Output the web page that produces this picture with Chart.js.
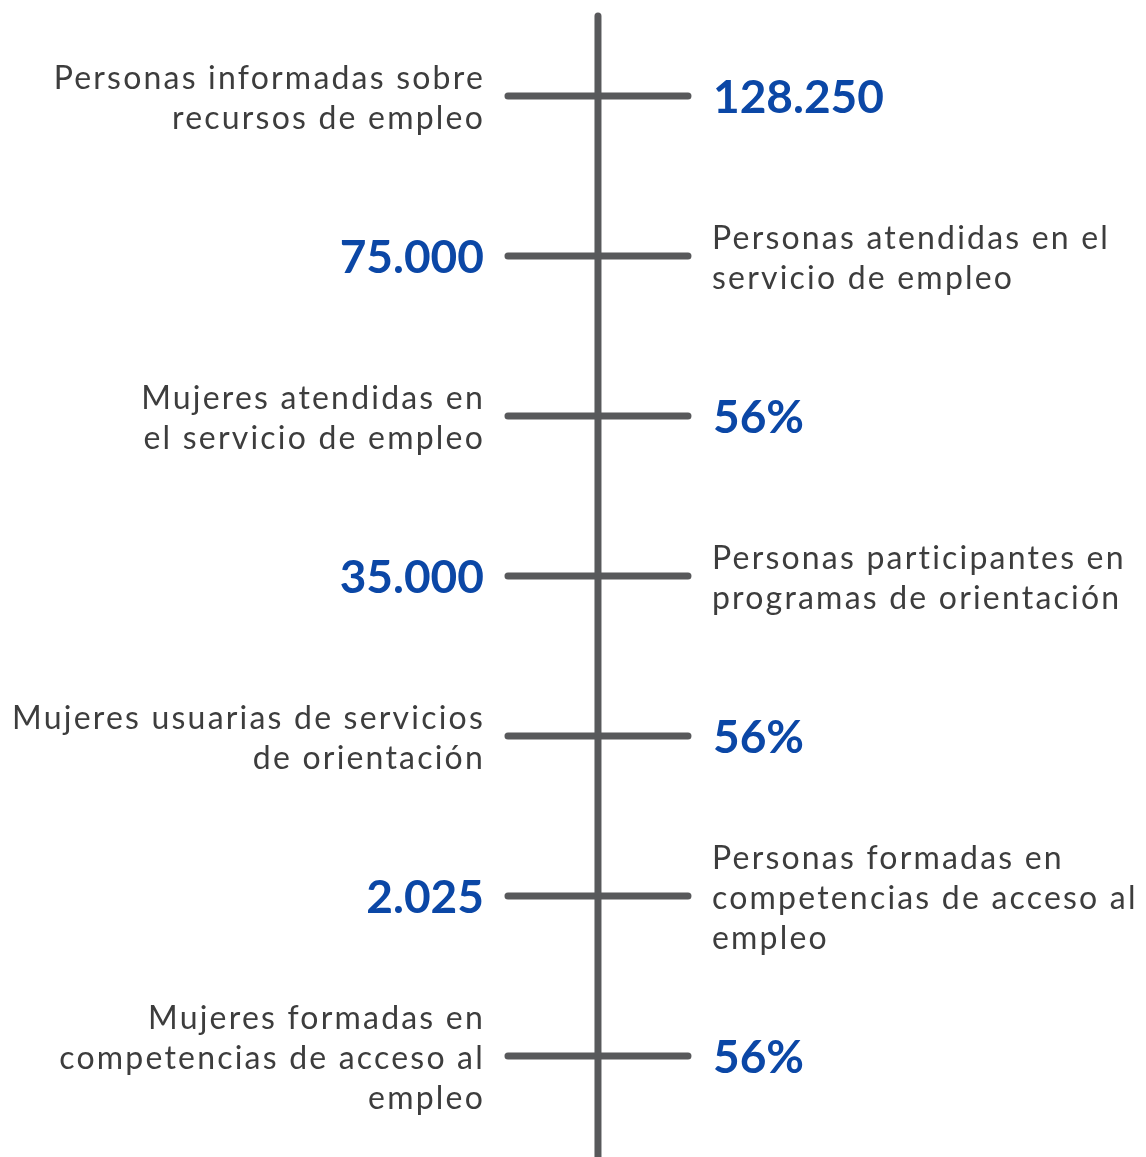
<!DOCTYPE html>
<html>
<head>
<meta charset="utf-8">
<script src="https://cdn.jsdelivr.net/npm/chart.js@4"></script>
<style>
    html, body { margin: 0; padding: 0; background: #ffffff; }
    #wrap { width: 1146px; height: 1157px; }
</style>
</head>
<body>
<div id="wrap"><canvas id="timelineChart" width="1146" height="1157"></canvas></div>
<script>
// ==================== DATOS ====================
const categories = [
    ['Personas informadas sobre', 'recursos de empleo'],
    ['Personas atendidas en el', 'servicio de empleo'],
    ['Mujeres atendidas en', 'el servicio de empleo'],
    ['Personas participantes en', 'programas de orientación'],
    ['Mujeres usuarias de servicios', 'de orientación'],
    ['Personas formadas en', 'competencias de acceso al', 'empleo'],
    ['Mujeres formadas en', 'competencias de acceso al', 'empleo']
];
const values = ['128.250', '75.000', '56%', '35.000', '56%', '2.025', '56%'];
// lado del texto descriptivo: 'left' o 'right' (el valor va en el lado opuesto)
const labelSide = ['left', 'right', 'left', 'right', 'left', 'right', 'left'];

const LINE_COLOR = '#58595b';
const TEXT_COLOR = '#3d3d3d';
const VALUE_COLOR = '#0b47a6';
const TEXT_FONT = '32px Lato, "Open Sans", sans-serif';
const VALUE_FONT = 'bold 46px Lato, "Open Sans", sans-serif';

// eje vertical + una rama horizontal por cada hito
const datasets = [{
    data: [{ x: 0, y: -0.5 }, { x: 0, y: categories.length + 1 }],
    borderColor: LINE_COLOR,
    borderWidth: 7,
    borderCapStyle: 'round',
    pointRadius: 0
}];
categories.forEach((c, i) => {
    datasets.push({
        data: [{ x: -1, y: i }, { x: 1, y: i }],
        borderColor: LINE_COLOR,
        borderWidth: 7,
        borderCapStyle: 'round',
        pointRadius: 0
    });
});

const labelsPlugin = {
    id: 'timelineLabels',
    afterDatasetsDraw(chart) {
        const ctx = chart.ctx;
        const xs = chart.scales.x;
        const ys = chart.scales.y;
        const leftX = xs.getPixelForValue(-1) - 25;
        const rightX = xs.getPixelForValue(1) + 24;
        const lineH = 40;
        ctx.save();
        ctx.textBaseline = 'middle';
        categories.forEach((lines, i) => {
            const cy = ys.getPixelForValue(i);
            const textOnLeft = labelSide[i] === 'left';
            // texto descriptivo (espaciado para imitar la fuente original)
            ctx.font = TEXT_FONT;
            ctx.letterSpacing = '2.2px';
            ctx.fillStyle = TEXT_COLOR;
            ctx.textAlign = textOnLeft ? 'right' : 'left';
            const tx = textOnLeft ? leftX + 2 : rightX;
            const y0 = cy + 3 - (lines.length - 1) * lineH / 2;
            lines.forEach((ln, k) => ctx.fillText(ln, tx, y0 + k * lineH));
            // valor
            ctx.font = VALUE_FONT;
            ctx.letterSpacing = '0px';
            ctx.fillStyle = VALUE_COLOR;
            ctx.textAlign = textOnLeft ? 'left' : 'right';
            ctx.fillText(values[i], textOnLeft ? rightX + 1 : leftX + 1, cy + 2);
        });
        ctx.restore();
    }
};

new Chart(document.getElementById('timelineChart').getContext('2d'), {
    type: 'line',
    data: { datasets },
    options: {
        responsive: false,
        animation: false,
        layout: { padding: 0 },
        plugins: { legend: { display: false }, tooltip: { enabled: false } },
        scales: {
            x: { type: 'linear', min: -6.644, max: 6.089, display: false },
            y: { type: 'linear', min: -0.6, max: 6.631, reverse: true, display: false }
        }
    },
    plugins: [labelsPlugin]
});
</script>
</body>
</html>
